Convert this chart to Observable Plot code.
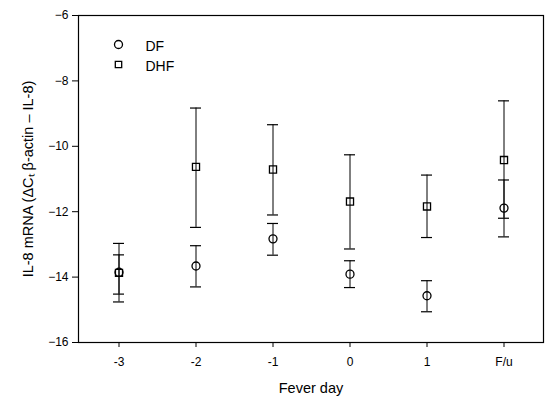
<!DOCTYPE html>
<html>
<head>
<meta charset="utf-8">
<script src="https://cdn.jsdelivr.net/npm/d3@7"></script>
<script src="https://cdn.jsdelivr.net/npm/@observablehq/plot@0.6"></script>
<style>
  body { margin: 0; background: #fff; }
  #chart svg { font-family: "Liberation Sans", Arial, sans-serif; }
</style>
</head>
<body>
<div id="chart"></div>
<script>
const days = ["-3", "-2", "-1", "0", "1", "F/u"];
const series = ["DF", "DHF"];
const dfMean  = [-13.85, -13.66, -12.83, -13.91, -14.57, -11.89];
const dfLow   = [-14.52, -14.30, -13.33, -14.32, -15.06, -12.77];
const dfHigh  = [-13.32, -13.04, -12.36, -13.50, -14.11, -11.03];
const dhfMean = [-13.87, -10.63, -10.71, -11.69, -11.84, -10.42];
const dhfLow  = [-14.76, -12.48, -12.10, -13.14, -12.79, -12.20];
const dhfHigh = [-12.97, -8.83, -9.34, -10.26, -10.88, -8.61];
const yTicks = [-6, -8, -10, -12, -14, -16];

const rows = [];
days.forEach((d, i) => {
  rows.push({day: d, series: "DF", mean: dfMean[i], low: dfLow[i], high: dfHigh[i]});
  rows.push({day: d, series: "DHF", mean: dhfMean[i], low: dhfLow[i], high: dhfHigh[i]});
});
const symbolOf = {DF: "circle", DHF: "square"};
const capInset = 33;

const chart = Plot.plot({
  width: 545,
  height: 400,
  marginLeft: 78,
  marginRight: 2,
  marginTop: 15,
  marginBottom: 58,
  style: {fontFamily: "Liberation Sans, Arial, sans-serif", fontSize: "12px", color: "#000", background: "#fff"},
  x: {type: "band", domain: days, padding: 0, label: "Fever day", labelAnchor: "center", labelOffset: 50, tickSize: 5, tickPadding: 10},
  y: {domain: [-16, -6], ticks: yTicks, tickSize: 6, tickPadding: 4, label: "IL-8 mRNA (ΔCₜ β-actin – IL-8)", labelAnchor: "center", labelArrow: "none", labelOffset: 56},
  marks: [
    Plot.frame({stroke: "#000", strokeWidth: 1.2}),
    Plot.ruleX(rows, {x: "day", y1: "low", y2: "high", stroke: "#000", strokeWidth: 1}),
    Plot.tickY(rows, {x: "day", y: "low", stroke: "#000", strokeWidth: 1.2, insetLeft: capInset, insetRight: capInset}),
    Plot.tickY(rows, {x: "day", y: "high", stroke: "#000", strokeWidth: 1.2, insetLeft: capInset, insetRight: capInset}),
    Plot.dot(rows, {x: "day", y: "mean", symbol: d => symbolOf[d.series], r: 4, stroke: "#000", strokeWidth: 1.3, fill: "none"}),
    Plot.dot([series[0]], {frameAnchor: "top-left", dx: 40, dy: 29, symbol: "circle", r: 4, stroke: "#000", strokeWidth: 1.3, fill: "none"}),
    Plot.dot([series[1]], {frameAnchor: "top-left", dx: 40, dy: 49, symbol: "square", r: 3.6, stroke: "#000", strokeWidth: 1.3, fill: "none"}),
    Plot.text([series[0]], {frameAnchor: "top-left", dx: 67, dy: 26, text: d => d, textAnchor: "start", fontSize: 14, fill: "#000"}),
    Plot.text([series[1]], {frameAnchor: "top-left", dx: 67, dy: 46, text: d => d, textAnchor: "start", fontSize: 14, fill: "#000"})
  ],
  symbol: {type: "identity"}
});
document.getElementById("chart").appendChild(chart);
chart.querySelectorAll('g[aria-label="x-axis label"] text, g[aria-label="y-axis label"] text').forEach(t => t.setAttribute("font-size", "14.5"));
</script>
</body>
</html>
